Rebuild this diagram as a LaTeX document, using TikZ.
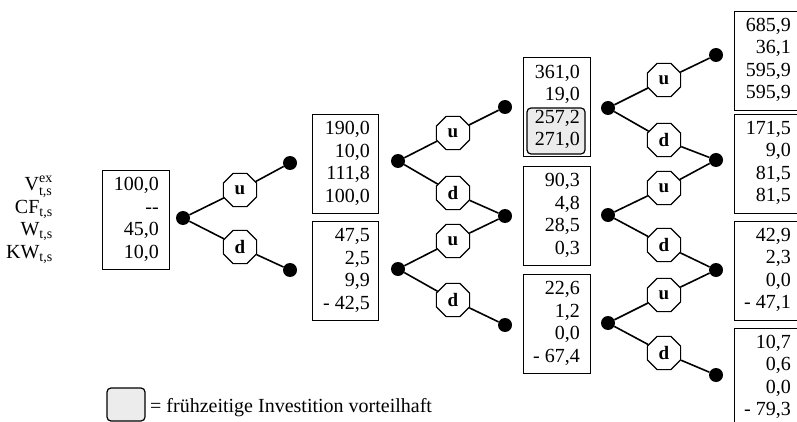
\documentclass[tikz,border=0pt]{standalone}
\usepackage{fontspec}
\setmainfont{Liberation Serif}
\usepackage{amsmath}
\usetikzlibrary{shapes.geometric}
\newcommand\valblock[4]{%
  \node[valbox, minimum width=#4] (#1) at (#2,#3) {};
}
\begin{document}
\begin{tikzpicture}[x=1pt,y=-1pt,
  every node/.style={font=\fontsize{20}{22.5}\selectfont},
  valbox/.style={draw, line width=1.2pt, minimum height=99pt, inner sep=0pt, anchor=north west},
  vals/.style={anchor=east, align=right, inner sep=0pt},
  lab/.style={anchor=base east, inner sep=0pt},
  dot/.style={circle, fill=black, minimum size=14pt, inner sep=0pt},
  oct/.style={regular polygon, regular polygon sides=8, draw, line width=1.2pt, minimum size=36pt, inner sep=0pt, fill=white, font=\bfseries\fontsize{19}{19}\selectfont},
  conn/.style={line width=1.6pt},
  hl/.style={draw, line width=1.2pt, rounded corners=4pt, fill=gray!15, inner sep=0pt}
]
\useasboundingbox (0,0) rectangle (797,422);

% labels
\node[lab] (lv) at (53,190) {V$^{\text{ex}}_{\text{t,s}}$};
\node[lab] (lcf) at (53,213) {CF$_{\text{t,s}}$};
\node[lab] (lw) at (53,235) {W$_{\text{t,s}}$};
\node[lab] (lkw) at (53,258) {KW$_{\text{t,s}}$};

% highlight
\node[hl, minimum width=58pt, minimum height=46pt] (hl3) at (556,131) {};

% boxes
\valblock{b1}{102}{170}{67pt}
\node[vals] (b1t) at (159,219.5) {100,0\\-{}-\\45,0\\10,0};
\valblock{b2a}{312}{114}{66pt}
\node[vals] (b2at) at (370,163.5) {190,0\\10,0\\111,8\\100,0};
\valblock{b2b}{312}{221}{66pt}
\node[vals] (b2bt) at (370,270.5) {47,5\\2,5\\9,9\\- 42,5};
\valblock{b3a}{523}{57}{67pt}
\node[vals] (b3at) at (580,107) {361,0\\19,0\\257,2\\271,0};
\valblock{b3b}{523}{166}{67pt}
\node[vals] (b3bt) at (580,215.5) {90,3\\4,8\\28,5\\0,3};
\valblock{b3c}{523}{274}{67pt}
\node[vals] (b3ct) at (580,323.5) {22,6\\1,2\\0,0\\- 67,4};
\valblock{b4a}{734}{11}{72pt}
\node[vals] (b4at) at (791,60) {685,9\\36,1\\595,9\\595,9};
\valblock{b4b}{734}{114}{72pt}
\node[vals] (b4bt) at (791,163) {171,5\\9,0\\81,5\\81,5};
\valblock{b4c}{734}{221}{72pt}
\node[vals] (b4ct) at (791,270) {42,9\\2,3\\0,0\\- 47,1};
\valblock{b4d}{734}{328}{72pt}
\node[vals] (b4dt) at (791,377) {10,7\\0,6\\0,0\\- 79,3};

% level 1
\node[dot] (r1) at (183,218) {};
\node[oct] (u1) at (240,190) {u};
\node[oct] (d1) at (240,247) {d};
\node[dot] (e1a) at (290,163) {};
\node[dot] (e1b) at (290,270) {};
\draw[conn] (r1) -- (u1) -- (e1a);
\draw[conn] (r1) -- (d1) -- (e1b);

% level 2
\node[dot] (r2a) at (398,161) {};
\node[dot] (r2b) at (398,269) {};
\node[oct] (u2a) at (453,133) {u};
\node[oct] (d2a) at (453,193) {d};
\node[oct] (u2b) at (453,241) {u};
\node[oct] (d2b) at (453,300) {d};
\node[dot] (e2a) at (505,107) {};
\node[dot] (e2b) at (505,216) {};
\node[dot] (e2c) at (505,325) {};
\draw[conn] (r2a) -- (u2a) -- (e2a);
\draw[conn] (r2a) -- (d2a) -- (e2b);
\draw[conn] (r2b) -- (u2b) -- (e2b);
\draw[conn] (r2b) -- (d2b) -- (e2c);

% level 3
\node[dot] (r3a) at (608,108) {};
\node[dot] (r3b) at (608,215) {};
\node[dot] (r3c) at (608,323) {};
\node[oct] (u3a) at (664,80) {u};
\node[oct] (d3a) at (664,140) {d};
\node[oct] (u3b) at (664,188) {u};
\node[oct] (d3b) at (664,245) {d};
\node[oct] (u3c) at (664,295) {u};
\node[oct] (d3c) at (664,353) {d};
\node[dot] (e3a) at (716,55) {};
\node[dot] (e3b) at (716,160) {};
\node[dot] (e3c) at (716,270) {};
\node[dot] (e3d) at (716,375) {};
\draw[conn] (r3a) -- (u3a) -- (e3a);
\draw[conn] (r3a) -- (d3a) -- (e3b);
\draw[conn] (r3b) -- (u3b) -- (e3b);
\draw[conn] (r3b) -- (d3b) -- (e3c);
\draw[conn] (r3c) -- (u3c) -- (e3c);
\draw[conn] (r3c) -- (d3c) -- (e3d);

% legend
\node[hl, minimum width=38pt, minimum height=33pt] (leg) at (126,404.5) {};
\node[anchor=base west, inner sep=0pt] (legt) at (150,412) {= frühzeitige Investition vorteilhaft};
\end{tikzpicture}
\end{document}
